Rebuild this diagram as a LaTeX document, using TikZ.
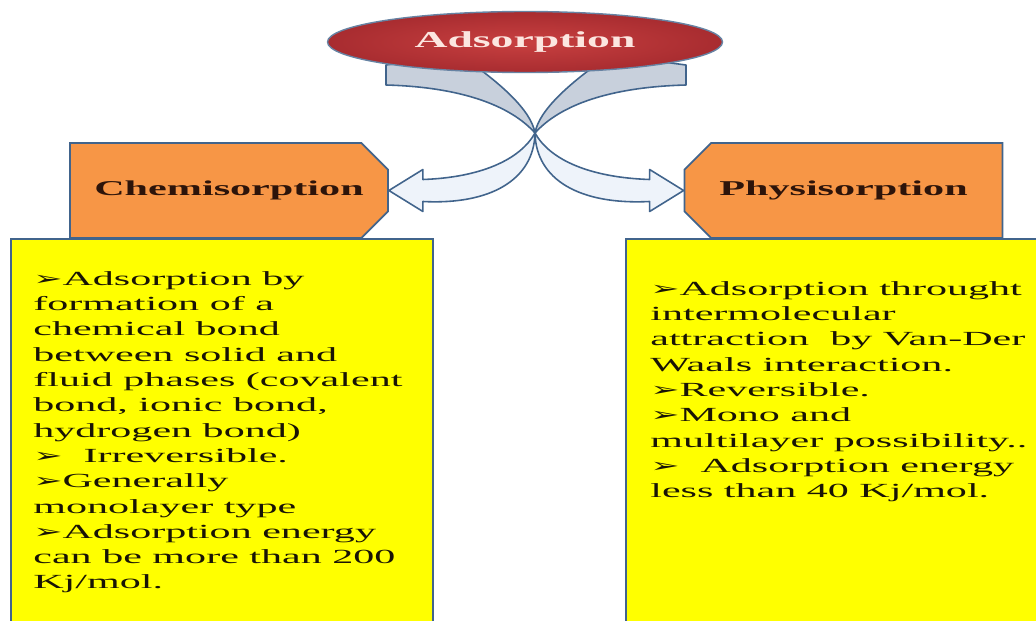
\documentclass[tikz,border=0pt]{standalone}
\usepackage{fontspec}
\usepackage{xcolor}
\usepackage{tikz}
\usetikzlibrary{shapes.geometric, shapes.misc, positioning, calc}
\newfontfamily\widefont[FakeStretch=2.0]{Liberation Serif}
\newfontfamily\bodyfont[FakeStretch=2.1]{Liberation Serif}
\newfontfamily\bulletfont[FakeStretch=1.8]{DejaVu Sans}
\newcommand{\bul}{{\bulletfont\fontsize{11}{10}\selectfont ➢}}
\definecolor{EllRed}{RGB}{200, 64, 64}
\definecolor{EllDark}{RGB}{168, 44, 48}
\definecolor{EllText}{RGB}{252, 230, 224}
\definecolor{TagOrange}{RGB}{247, 150, 70}
\definecolor{TagText}{RGB}{45, 20, 10}
\definecolor{NoteText}{RGB}{25, 20, 5}
\definecolor{EdgeBlue}{RGB}{65, 100, 140}
\definecolor{RibbonGray}{RGB}{200, 208, 220}
\definecolor{RibbonLight}{RGB}{238, 243, 250}
\definecolor{NoteYellow}{RGB}{255, 255, 0}

\begin{document}
\begin{tikzpicture}[
    tag/.style={chamfered rectangle, chamfered rectangle xsep=0.5cm, chamfered rectangle ysep=0.34cm,
        draw=EdgeBlue, line width=1pt, fill=TagOrange, minimum width=6.36cm, minimum height=1.9cm,
        inner sep=0pt, text=TagText, font=\widefont\bfseries\fontsize{12}{14}\selectfont},
    note/.style={draw=EdgeBlue, line width=1pt, fill=NoteYellow, anchor=north west, inner sep=0pt},
    notetext/.style={anchor=north west, align=left, inner sep=0pt, text=NoteText,
        font=\bodyfont\fontsize{11.4}{14.4}\selectfont},
    ribbontop/.style={draw=EdgeBlue, line width=0.9pt, fill=RibbonGray, line join=round},
    ribbonlow/.style={draw=EdgeBlue, line width=0.9pt, fill=RibbonLight, line join=round}
]
    % 画布
    \useasboundingbox (0,0) rectangle (20.72,12.4);
    \clip (0,0) rectangle (20.72,12.4);
    \fill[white] (0,0) rectangle (20.72,12.4);

    % 黄色说明框
    \node[note, minimum width=8.44cm, minimum height=8.2cm] (chemnote) at (0.2,7.64) {};
    \node[note, minimum width=8.8cm, minimum height=8.2cm] (physnote) at (12.5,7.64) {};

    % 橙色标签
    \node[tag, chamfered rectangle corners={north east, south east}] (chem) at (4.58,8.59) {Chemisorption};
    \node[tag, chamfered rectangle corners={north west, south west}] (phys) at (16.87,8.59) {Physisorption};

    % 说明文字
    \node[notetext] (chemtext) at ($(chemnote.north west)+(0.46,-0.66)$) {
        \bul Adsorption by\\
        formation of a\\
        chemical bond\\
        between solid and\\
        fluid phases (covalent\\
        bond, ionic bond,\\
        hydrogen bond)\\
        \bul\ \ Irreversible.\\
        \bul Generally\\
        monolayer type\\
        \bul Adsorption energy\\
        can be more than 200\\
        Kj/mol.
    };
    \node[notetext] (phystext) at ($(physnote.north west)+(0.5,-0.86)$) {
        \bul Adsorption throught\\
        intermolecular\\
        attraction \ by Van-Der\\
        Waals interaction.\\
        \bul Reversible.\\
        \bul Mono and\\
        multilayer possibility..\\
        \bul\ \ Adsorption energy\\
        less than 40 Kj/mol.
    };

    % 交叉的弯曲箭头
    \coordinate (cross) at (10.70,9.74);
    \draw[ribbontop] (7.72,11.10) -- (7.72,10.70) .. controls (9.2,10.66) and (10.2,10.3) .. (cross)
        .. controls (10.62,10.2) and (10.0,10.75) .. (9.2,11.3) -- cycle;
    \draw[ribbontop] (13.72,11.10) -- (13.72,10.70) .. controls (12.2,10.66) and (11.2,10.3) .. (cross)
        .. controls (10.78,10.2) and (11.4,10.75) .. (12.2,11.3) -- cycle;
    \draw[ribbonlow] (cross) .. controls (11.0,9.2) and (11.8,8.85) .. ($(phys.west)+(-0.68,0.22)$)
        -- ($(phys.west)+(-0.68,0.42)$) -- (phys.west) -- ($(phys.west)+(-0.68,-0.42)$)
        -- ($(phys.west)+(-0.68,-0.22)$) .. controls (11.6,8.3) and (10.72,8.8) .. (cross) -- cycle;
    \draw[ribbonlow] (cross) .. controls (10.4,9.2) and (9.6,8.85) .. ($(chem.east)+(0.68,0.22)$)
        -- ($(chem.east)+(0.68,0.42)$) -- (chem.east) -- ($(chem.east)+(0.68,-0.42)$)
        -- ($(chem.east)+(0.68,-0.22)$) .. controls (9.8,8.3) and (10.68,8.8) .. (cross) -- cycle;

    % 顶部椭圆
    \node[ellipse, draw=EdgeBlue!80, line width=0.8pt, inner color=EllRed, outer color=EllDark,
        minimum width=7.9cm, minimum height=1.22cm, inner sep=0pt, text=EllText,
        font=\widefont\bfseries\fontsize{13}{15}\selectfont] (ads) at (10.5,11.56) {Adsorption};
\end{tikzpicture}
\end{document}
